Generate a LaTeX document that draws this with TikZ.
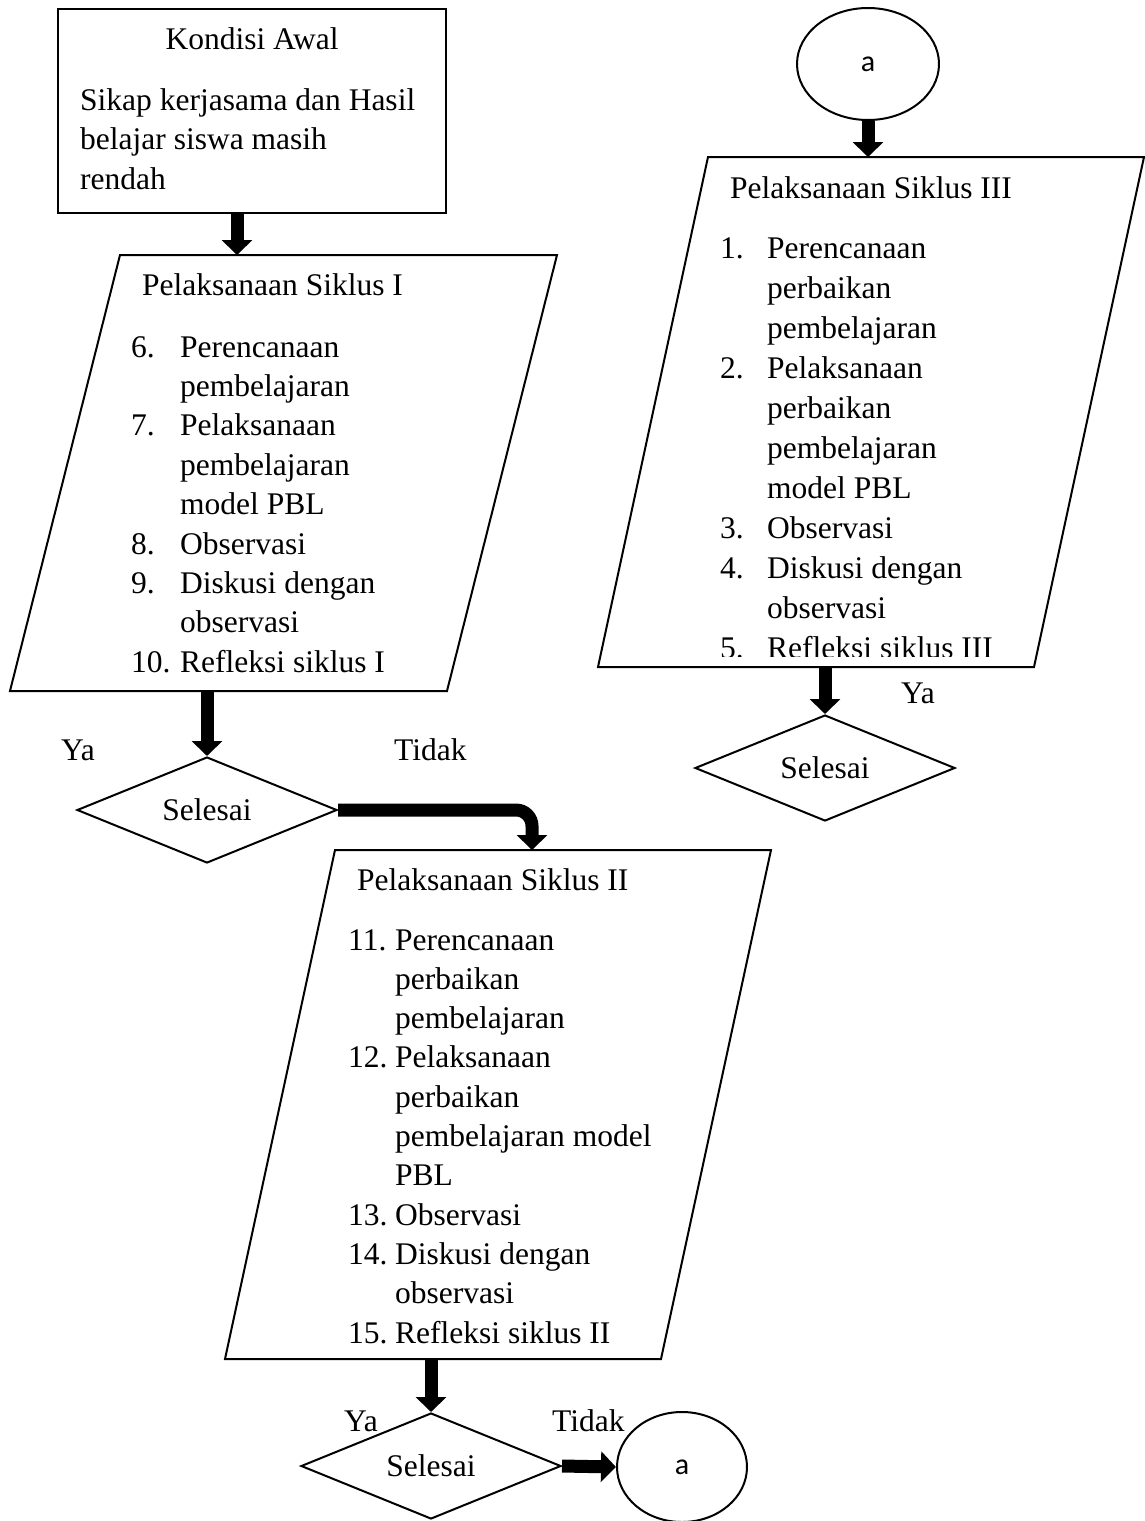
\documentclass[tikz,border=0pt]{standalone}
\usepackage{fontspec}
\setmainfont{Liberation Serif}
\newfontfamily\calibri{Carlito}
\usetikzlibrary{arrows.meta,shapes.geometric,calc}

\begin{document}
\begin{tikzpicture}[x=1pt,y=-1pt,
		txt/.style={inner sep=0, anchor=base west, font=\fontsize{31.5}{39.6}\selectfont},
		garis/.style={line width=2pt},
		panah/.style={line width=13pt, -{Triangle[width=30pt,length=15pt]}},
		putus/.style={shape=diamond, draw, line width=2pt, inner sep=0, minimum width=260pt, minimum height=106pt, aspect=2.45, font=\fontsize{31.5}{39.6}\selectfont},
		konektor/.style={shape=ellipse, draw, line width=2pt, inner sep=0, font=\calibri\fontsize{30}{30}\selectfont}]
		\useasboundingbox (0,0) rectangle (1145,1521);

		\node[draw, garis, inner sep=0, minimum width=388pt, minimum height=204pt] (awal) at (252,111) {};
		\node[txt, anchor=base] (awal-judul) at (252,49) {Kondisi Awal};
		\foreach \baris [count=\i from 0] in {Sikap kerjasama dan Hasil,belajar siswa masih,rendah}
			\node[txt] (awal-\i) at (80,110+39.5*\i) {\baris};

		\coordinate (p1-atas) at (237,255);
		\coordinate (p1-bawah) at (207,691);
		\draw[garis] (120,255) -- (557,255) -- (447,691) -- (10,691) -- cycle;
		\node[txt] (p1-judul) at (142,295) {Pelaksanaan Siklus I};
		\foreach \no/\baris [count=\i from 0] in {6./Perencanaan,/pembelajaran,7./Pelaksanaan,/pembelajaran,/model PBL,8./Observasi,9./Diskusi dengan,/observasi,10./Refleksi siklus I} {
			\node[txt] (p1-no-\i) at (131,357+39.4*\i) {\no};
			\node[txt] (p1-isi-\i) at (180,357+39.4*\i) {\baris};
		}
		\draw[panah] (p1-atas |- awal.south) -- (p1-atas);

		\node[putus] (d1) at (207,810) {Selesai};
		\node[txt] (ya1) at (61,760) {Ya};
		\node[txt] (tidak1) at (394,760) {Tidak};
		\draw[panah] (p1-bawah) -- (d1.north);

		\coordinate (p2-atas) at (532,850);
		\coordinate (p2-bawah) at (431,1359);
		\draw[garis] (335,850) -- (771,850) -- (661,1359) -- (225,1359) -- cycle;
		\node[txt] (p2-judul) at (357,890) {Pelaksanaan Siklus II};
		\foreach \no/\baris [count=\i from 0] in {11./Perencanaan,/perbaikan,/pembelajaran,12./Pelaksanaan,/perbaikan,/pembelajaran model,/PBL,13./Observasi,14./Diskusi dengan,/observasi,15./Refleksi siklus II} {
			\node[txt] (p2-no-\i) at (348,950+39.3*\i) {\no};
			\node[txt] (p2-isi-\i) at (395,950+39.3*\i) {\baris};
		}
		\draw[panah, rounded corners=16pt] (d1.east) -| (p2-atas);

		\node[putus] (d2) at (431,1466) {Selesai};
		\node[txt] (ya2) at (344,1431) {Ya};
		\node[txt] (tidak2) at (552,1431) {Tidak};
		\node[konektor, minimum width=130pt, minimum height=110pt] (a2) at (682,1467) {a};
		\draw[panah] (p2-bawah) -- (d2.north);
		\draw[panah] (d2.east) -- (a2.west);

		\node[konektor, minimum width=142pt, minimum height=112pt] (a1) at (868,64) {a};
		\coordinate (p3-atas) at (868,157);
		\coordinate (p3-bawah) at (825,667);
		\draw[garis] (708,157) -- (1144,157) -- (1034,667) -- (598,667) -- cycle;
		\node[txt] (p3-judul) at (730,198) {Pelaksanaan Siklus III};
		\begin{scope}
			\clip (598,157) rectangle (1145,656);
			\foreach \no/\baris [count=\i from 0] in {1./Perencanaan,/perbaikan,/pembelajaran,2./Pelaksanaan,/perbaikan,/pembelajaran,/model PBL,3./Observasi,4./Diskusi dengan,/observasi,5./Refleksi siklus III} {
				\node[txt] (p3-no-\i) at (720,258+40*\i) {\no};
				\node[txt] (p3-isi-\i) at (767,258+40*\i) {\baris};
			}
		\end{scope}
		\draw[panah] (a1.south) -- (p3-atas);

		\node[putus] (d3) at (825,768) {Selesai};
		\node[txt] (ya3) at (901,703) {Ya};
		\draw[panah] (p3-bawah) -- (d3.north);
\end{tikzpicture}
\end{document}
